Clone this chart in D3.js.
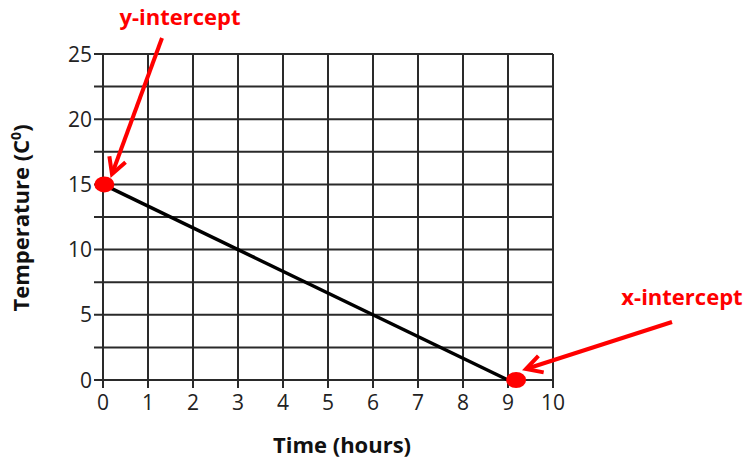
<!DOCTYPE html>
<html>
<head>
<meta charset="utf-8">
<script src="https://cdn.jsdelivr.net/npm/d3@7"></script>
<style>
  body { margin: 0; background: #fff; }
  text { font-family: "Open Sans", "Noto Sans", sans-serif; }
</style>
</head>
<body>
<div id="chart"></div>
<script>
// data
var xTicks = [0, 1, 2, 3, 4, 5, 6, 7, 8, 9, 10];
var yTicks = [0, 5, 10, 15, 20, 25];
var yGrid = [0, 2.5, 5, 7.5, 10, 12.5, 15, 17.5, 20, 22.5, 25];
var lineData = [{ x: 0, y: 15 }, { x: 9, y: 0 }];
var dotData = [{ x: 0.03, y: 15 }, { x: 9.18, y: 0 }];
var notes = [
  { text: "y-intercept", tx: 180, ty: 25, from: [162, 38], to: [112, 174] },
  { text: "x-intercept", tx: 682, ty: 305, from: [672, 322], to: [526, 369] }
];

var width = 744, height = 462;
var svg = d3.select("#chart").append("svg")
  .attr("width", width)
  .attr("height", height);

var x = d3.scaleLinear().domain([0, 10]).range([103, 553]);
var y = d3.scaleLinear().domain([0, 25]).range([380, 54]);

var gridColor = "#2a2a2a";

//horizontal grid lines, each sticks out left like a tick
svg.selectAll(".hgrid")
  .data(yGrid)
  .enter().append("line")
  .attr("x1", x(0) - 9)
  .attr("x2", x(10))
  .attr("y1", d => y(d))
  .attr("y2", d => y(d))
  .attr("stroke", gridColor)
  .attr("stroke-width", 2);

//vertical grid lines, stick out below
svg.selectAll(".vgrid")
  .data(xTicks)
  .enter().append("line")
  .attr("x1", d => x(d))
  .attr("x2", d => x(d))
  .attr("y1", y(25))
  .attr("y2", y(0) + 8)
  .attr("stroke", gridColor)
  .attr("stroke-width", 2);

//tick labels
svg.selectAll(".ylab")
  .data(yTicks)
  .enter().append("text")
  .attr("x", x(0) - 11)
  .attr("y", d => y(d))
  .attr("dy", "0.36em")
  .attr("text-anchor", "end")
  .attr("font-size", "21px")
  .attr("fill", "#222")
  .text(d => d);

svg.selectAll(".xlab")
  .data(xTicks)
  .enter().append("text")
  .attr("x", d => x(d))
  .attr("y", 410)
  .attr("text-anchor", "middle")
  .attr("font-size", "21px")
  .attr("fill", "#222")
  .text(d => d);

//axis titles
svg.append("text")
  .attr("x", 342)
  .attr("y", 453)
  .attr("text-anchor", "middle")
  .attr("font-size", "22px")
  .attr("font-weight", "bold")
  .attr("fill", "#111")
  .text("Time (hours)");

var yTitle = svg.append("text")
  .attr("transform", "translate(29,218) rotate(-90)")
  .attr("text-anchor", "middle")
  .attr("font-size", "22px")
  .attr("font-weight", "bold")
  .attr("fill", "#111");
yTitle.append("tspan").text("Temperature (C");
yTitle.append("tspan").attr("font-size", "14px").attr("dy", "-0.6em").text("0");
yTitle.append("tspan").attr("dy", "0.4em").text(")");

//the line
var line = d3.line().x(d => x(d.x)).y(d => y(d.y));
svg.append("path")
  .datum(lineData)
  .attr("d", line)
  .attr("fill", "none")
  .attr("stroke", "#000")
  .attr("stroke-width", 3.5);

//intercept dots
svg.selectAll(".dot")
  .data(dotData)
  .enter().append("ellipse")
  .attr("cx", d => x(d.x))
  .attr("cy", d => y(d.y))
  .attr("rx", 10)
  .attr("ry", 8)
  .attr("fill", "#ff0000");

//annotations with arrows
notes.forEach(function(n) {
  svg.append("text")
    .attr("x", n.tx)
    .attr("y", n.ty)
    .attr("text-anchor", "middle")
    .attr("font-size", "22px")
    .attr("font-weight", "bold")
    .attr("fill", "#ff0000")
    .text(n.text);

  svg.append("line")
    .attr("x1", n.from[0]).attr("y1", n.from[1])
    .attr("x2", n.to[0]).attr("y2", n.to[1])
    .attr("stroke", "#ff0000")
    .attr("stroke-width", 4);

  var ang = Math.atan2(n.to[1] - n.from[1], n.to[0] - n.from[0]);
  var len = 18, spread = 0.5;
  var p1 = [n.to[0] - len * Math.cos(ang - spread), n.to[1] - len * Math.sin(ang - spread)];
  var p2 = [n.to[0] - len * Math.cos(ang + spread), n.to[1] - len * Math.sin(ang + spread)];
  svg.append("path")
    .attr("d", d3.line()([p1, n.to, p2]))
    .attr("fill", "none")
    .attr("stroke", "#ff0000")
    .attr("stroke-width", 4);
});
</script>
</body>
</html>
